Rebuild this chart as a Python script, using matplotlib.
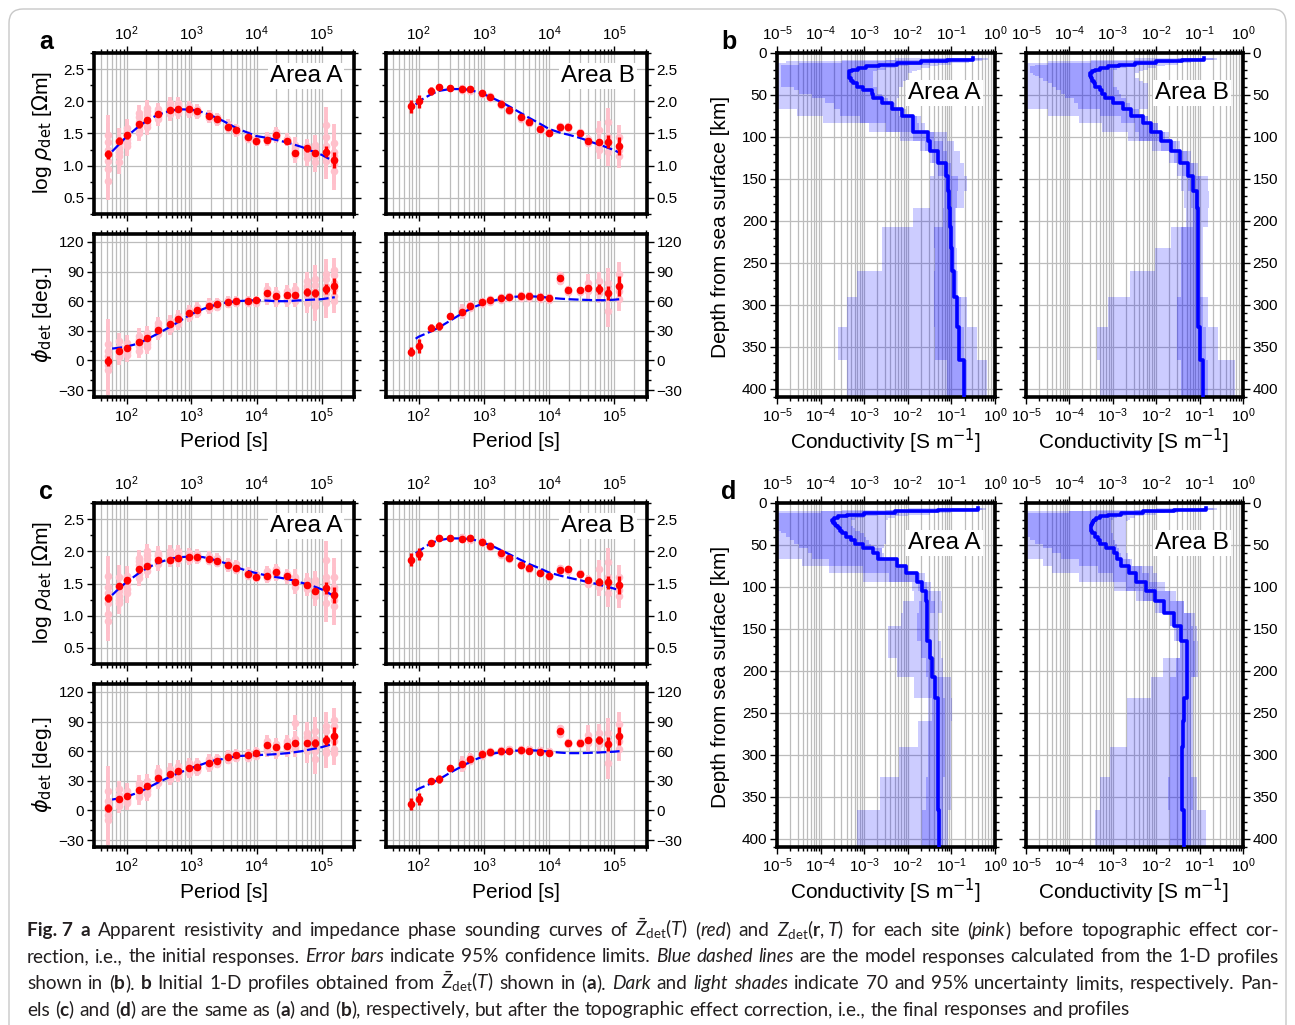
import re
import numpy as np
import matplotlib
matplotlib.use('Agg')
import matplotlib.pyplot as plt
from matplotlib import font_manager as fm
from matplotlib.ticker import LogLocator, MultipleLocator, NullFormatter, FormatStrFormatter
from matplotlib.font_manager import FontProperties
from matplotlib.patches import FancyBboxPatch
from matplotlib.transforms import IdentityTransform

W, H = 1295, 1025
DPI = 100
nan = np.nan

# ---------------------------------------------------------------- data
T_A = [51.2, 76.8, 102.4, 153.6, 204.8, 307.2, 460.8, 614.4, 921.6, 1228.8, 1843.2, 2457.6,
       3686.4, 4915.2, 7372.8, 9830.4, 14745.6, 19660.8, 29491.2, 39321.6, 58982.4, 78643.2,
       117964.8, 157286.4]
T_B = [76.8, 102.4, 153.6, 204.8, 307.2, 460.8, 614.4, 921.6, 1228.8, 1843.2, 2457.6,
       3686.4, 4915.2, 7372.8, 9830.4, 14745.6, 19660.8, 29491.2, 39321.6, 58982.4, 78643.2,
       117964.8]
TM_A = [60, 80, 100, 150, 200, 300, 500, 700, 1000, 1500, 2000, 3000, 5000, 7000, 10000,
        15000, 20000, 30000, 50000, 70000, 100000, 160000]
TM_B = [90, 100, 150, 200, 300, 500, 700, 1000, 1500, 2000, 3000, 5000, 7000, 10000, 15000,
        20000, 30000, 50000, 70000, 100000, 120000]

# ---- panel a (initial responses)
a_rhoA_red = [1.18, 1.39, 1.47, 1.64, 1.71, 1.81, 1.86, 1.88, 1.88, 1.85, 1.77, 1.72, 1.60, 1.55,
              1.45, 1.39, 1.40, 1.47, 1.39, 1.19, 1.27, 1.20, 1.22, 1.09]
a_rhoA_err = [0.07, 0.05, 0.05, 0.05, 0.04, 0.04, 0.03, 0.03, 0.03, 0.03, 0.03, 0.03, 0.03, 0.03,
              0.03, 0.03, 0.03, 0.03, 0.03, 0.04, 0.05, 0.05, 0.08, 0.13]
a_rhoA_model = [1.22, 1.35, 1.45, 1.60, 1.69, 1.79, 1.86, 1.875, 1.87, 1.83, 1.78, 1.70, 1.58, 1.52,
                1.46, 1.43, 1.40, 1.36, 1.29, 1.23, 1.17, 1.06]
a_rhoA_pink = [
    [1.48, 1.40, 1.58, 1.82, 1.90, 1.88, 1.97, 1.97, 1.92, 1.88, 1.80, 1.75, 1.65, 1.58, 1.48, 1.42, 1.45, 1.52, 1.42, 1.32, 1.30, 1.32, 1.63, 1.35],
    [1.37, 1.28, 1.48, 1.68, 1.78, 1.82, 1.90, 1.92, 1.88, 1.85, 1.78, 1.73, 1.62, 1.56, 1.46, 1.41, 1.42, 1.48, 1.40, 1.25, 1.25, 1.22, 1.45, 1.22],
    [1.07, 1.15, 1.35, 1.55, 1.65, 1.76, 1.83, 1.85, 1.85, 1.83, 1.75, 1.70, 1.60, 1.53, 1.44, 1.38, 1.38, 1.45, 1.38, 1.20, 1.18, 1.15, 1.20, 1.10],
    [0.76, 1.05, 1.30, 1.50, 1.60, 1.72, 1.80, 1.82, 1.82, 1.80, 1.74, 1.69, 1.58, 1.52, 1.42, 1.37, 1.40, 1.44, 1.38, 1.16, 1.12, 1.05, 1.08, 0.92],
    [1.25, 1.35, 1.42, 1.62, 1.70, 1.79, 1.86, 1.88, 1.87, 1.84, 1.77, 1.72, 1.61, 1.55, 1.45, 1.40, 1.42, 1.47, 1.39, 1.28, 1.22, 1.18, 1.30, 1.15],
    [0.95, 1.22, 1.52, 1.75, 1.85, 1.85, 1.93, 1.95, 1.90, 1.86, 1.79, 1.74, 1.63, 1.57, 1.47, 1.40, 1.43, 1.50, 1.41, 1.22, 1.28, 1.28, 1.15, 1.02]]
a_rhoA_pink_err = [0.30, 0.18, 0.15, 0.12, 0.12, 0.10, 0.10, 0.10, 0.08, 0.08, 0.07, 0.07, 0.07, 0.07,
                   0.06, 0.06, 0.07, 0.08, 0.08, 0.12, 0.12, 0.15, 0.28, 0.30]

a_phiA_red = [-0.8, 10, 13, 19, 23, 31, 37, 42, 48, 51, 55, 57, 59, 60, 60, 61, 68, 65, 66, 66, 69, 68, 72, 75]
a_phiA_err = [5, 3, 3, 3, 3, 2, 2, 2, 2, 2, 2, 2, 2, 2, 2, 2, 2.5, 2.5, 2.5, 2.5, 4, 4, 5, 8]
a_phiA_model = [12, 13, 14, 17, 21, 27, 35, 41, 47, 52, 55, 58, 60, 60.5, 61, 60.5, 60, 60, 61, 61.5, 62, 64]
a_phiA_pink = [
    [17, 20, 18, 25, 28, 38, 40, 45, 51, 54, 58, 59, 61, 61, 61, 61, 72, 68, 70, 72, 80, 82, 88, 92],
    [10, 14, 13, 20, 22, 33, 37, 42, 48, 51, 55, 57, 59, 60, 60, 61, 68, 64, 66, 67, 72, 70, 75, 78],
    [-5, 6, 9, 15, 17, 29, 34, 39, 46, 49, 53, 55, 58, 59, 59, 59, 65, 61, 62, 63, 65, 55, 62, 65],
    [-10, 3, 6, 10, 14, 27, 32, 37, 44, 48, 52, 54, 57, 58, 58, 58, 62, 60, 60, 60, 58, 60, 58, 60],
    [5, 12, 11, 18, 20, 31, 36, 41, 47, 50, 54, 56, 59, 60, 60, 60, 66, 63, 64, 65, 68, 65, 68, 72],
    [0, 8, 15, 22, 25, 35, 39, 43, 49, 52, 56, 58, 60, 60, 61, 60, 70, 66, 68, 70, 75, 76, 82, 86]]
a_phiA_pink_err = [25, 8, 8, 8, 7, 6, 6, 6, 5, 5, 5, 4, 4, 4, 4, 4, 6, 6, 6, 6, 10, 15, 15, 12]

a_rhoB_red = [1.92, 2.00, 2.16, 2.22, 2.20, 2.19, 2.19, 2.13, 2.07, 1.96, 1.87, 1.75, 1.68, 1.57, 1.51,
              1.60, 1.60, 1.51, 1.39, 1.37, 1.37, 1.31]
a_rhoB_err = [0.10, 0.10, 0.06, 0.05, 0.04, 0.03, 0.03, 0.03, 0.03, 0.03, 0.03, 0.03, 0.03, 0.03, 0.03,
              0.03, 0.03, 0.03, 0.04, 0.05, 0.10, 0.14]
a_rhoB_model = [1.95, 2.0, 2.1, 2.16, 2.19, 2.19, 2.16, 2.11, 2.03, 1.97, 1.87, 1.74, 1.66, 1.57, 1.51,
                1.48, 1.43, 1.35, 1.30, 1.24, 1.20]
a_rhoB_pink = [
    [nan, nan, nan, nan, nan, 2.20, 2.19, 2.13, 2.08, 1.97, 1.88, 1.76, 1.69, 1.58, 1.52, 1.62, 1.61, 1.52, 1.42, 1.55, 1.68, 1.45],
    [nan, nan, nan, nan, nan, 2.17, 2.16, 2.11, 2.05, 1.94, 1.85, 1.73, 1.66, 1.56, 1.50, 1.58, 1.58, 1.50, 1.38, 1.30, 1.45, 1.25],
    [nan, nan, nan, nan, nan, 2.18, 2.18, 2.12, 2.06, 1.95, 1.86, 1.74, 1.67, 1.57, 1.51, 1.60, 1.60, 1.51, 1.36, 1.25, 1.22, 1.15]]
a_rhoB_pink_err = [nan, nan, nan, nan, nan, 0.05, 0.05, 0.05, 0.05, 0.05, 0.05, 0.05, 0.05, 0.04, 0.04,
                   0.05, 0.04, 0.04, 0.06, 0.15, 0.22, 0.18]

a_phiB_red = [9, 15, 33, 35, 45, 49, 55, 59, 61, 63, 64, 65, 65, 64, 63, 83, 71, 71, 73, 72, 68, 75]
a_phiB_err = [5, 7, 3.5, 4, 3.5, 3, 2.5, 2, 2, 2, 2, 2, 2, 2, 2, 3, 2, 2, 3, 5, 7, 10]
a_phiB_model = [22, 24, 29, 33, 40, 49, 54, 58, 61, 63, 64.5, 65, 64.5, 63.5, 62.5, 62, 61.5, 61, 61, 61.5, 62]
a_phiB_pink = [
    [nan, nan, nan, nan, nan, 52, 56, 60, 62, 64, 65, 66, 66, 65, 64, 86, 72, 71, 78, 80, 78, 88],
    [nan, nan, nan, nan, nan, 49, 54, 58, 60, 62, 64, 64, 64, 63, 62, 81, 70, 70, 73, 72, 50, 70],
    [nan, nan, nan, nan, nan, 47, 53, 57, 59, 61, 63, 63, 63, 62, 61, 80, 69, 69, 70, 68, 72, 62]]
a_phiB_pink_err = [nan, nan, nan, nan, nan, 5, 4, 3, 3, 3, 3, 3, 3, 3, 3, 4, 3, 3, 10, 10, 16, 12]

# ---- panel c (final responses)
c_rhoA_red = [1.27, 1.46, 1.55, 1.72, 1.77, 1.86, 1.87, 1.89, 1.91, 1.91, 1.88, 1.85, 1.78, 1.74,
              1.65, 1.60, 1.62, 1.68, 1.61, 1.53, 1.47, 1.38, 1.43, 1.32]
c_rhoA_err = [0.06, 0.05, 0.05, 0.05, 0.04, 0.04, 0.03, 0.03, 0.03, 0.03, 0.03, 0.03, 0.03, 0.03,
              0.03, 0.03, 0.03, 0.03, 0.03, 0.04, 0.04, 0.05, 0.09, 0.12]
c_rhoA_model = [1.32, 1.44, 1.52, 1.65, 1.73, 1.82, 1.89, 1.91, 1.92, 1.91, 1.88, 1.83, 1.75, 1.70,
                1.66, 1.62, 1.60, 1.57, 1.51, 1.47, 1.41, 1.30]
c_rhoA_pink = [
    [1.62, 1.60, 1.62, 1.90, 2.00, 1.98, 2.00, 2.00, 1.97, 1.96, 1.93, 1.90, 1.83, 1.80, 1.70, 1.65, 1.70, 1.72, 1.65, 1.60, 1.55, 1.55, 1.86, 1.60],
    [1.45, 1.45, 1.55, 1.78, 1.88, 1.92, 1.95, 1.96, 1.93, 1.93, 1.90, 1.87, 1.80, 1.76, 1.67, 1.62, 1.65, 1.68, 1.62, 1.55, 1.50, 1.45, 1.60, 1.40],
    [1.20, 1.30, 1.42, 1.65, 1.75, 1.84, 1.88, 1.90, 1.90, 1.90, 1.87, 1.84, 1.77, 1.73, 1.64, 1.60, 1.60, 1.65, 1.60, 1.50, 1.45, 1.35, 1.35, 1.25],
    [0.91, 1.20, 1.35, 1.58, 1.70, 1.80, 1.85, 1.86, 1.87, 1.88, 1.85, 1.82, 1.75, 1.71, 1.62, 1.58, 1.58, 1.62, 1.58, 1.45, 1.42, 1.30, 1.20, 1.15],
    [1.35, 1.38, 1.50, 1.72, 1.80, 1.88, 1.91, 1.93, 1.92, 1.92, 1.89, 1.86, 1.78, 1.74, 1.66, 1.61, 1.62, 1.67, 1.61, 1.52, 1.48, 1.40, 1.45, 1.33],
    [1.02, 1.25, 1.60, 1.85, 1.95, 1.95, 1.98, 1.98, 1.95, 1.94, 1.91, 1.88, 1.81, 1.78, 1.68, 1.63, 1.67, 1.70, 1.63, 1.57, 1.52, 1.50, 1.52, 1.45]]
c_rhoA_pink_err = [0.30, 0.18, 0.15, 0.12, 0.12, 0.10, 0.10, 0.10, 0.08, 0.08, 0.07, 0.07, 0.07, 0.07,
                   0.06, 0.06, 0.07, 0.08, 0.08, 0.12, 0.12, 0.15, 0.30, 0.30]

c_phiA_red = [2.5, 12, 15, 21, 25, 33, 37, 40, 43, 44, 48, 50, 54, 56, 56, 58, 66, 64, 65, 68, 68, 68, 71, 75]
c_phiA_err = [4, 3, 3, 3, 3, 2, 2, 2, 2, 2, 2, 2, 2, 2, 2, 2, 2.5, 2.5, 2.5, 2.5, 3, 4, 5, 9]
c_phiA_model = [11, 12.5, 14, 18, 22, 28, 35, 39, 43, 47, 50, 52, 55, 55.5, 56, 56.5, 57, 58, 60, 62, 64, 68]
c_phiA_pink = [
    [20, 22, 20, 28, 30, 40, 42, 45, 48, 48, 52, 53, 57, 58, 58, 60, 70, 67, 70, 89, 78, 80, 85, 92],
    [10, 16, 15, 22, 25, 35, 38, 40, 43, 44, 48, 50, 54, 56, 56, 58, 66, 63, 65, 68, 70, 65, 72, 75],
    [-5, 8, 10, 17, 20, 30, 34, 37, 40, 41, 45, 48, 52, 54, 54, 56, 62, 60, 62, 64, 62, 52, 60, 62],
    [-10, 5, 8, 14, 17, 28, 32, 35, 38, 40, 44, 47, 51, 53, 53, 55, 60, 58, 60, 62, 60, 60, 58, 58],
    [5, 12, 12, 19, 22, 32, 36, 38, 41, 42, 46, 49, 53, 55, 55, 57, 64, 62, 63, 66, 66, 63, 66, 70],
    [0, 10, 18, 25, 28, 38, 40, 43, 46, 46, 50, 52, 56, 57, 57, 59, 68, 65, 68, 72, 74, 72, 80, 85]]
c_phiA_pink_err = [25, 8, 8, 8, 7, 6, 6, 6, 5, 5, 5, 4, 4, 4, 4, 4, 6, 6, 6, 8, 12, 15, 15, 12]

c_rhoB_red = [1.87, 1.96, 2.13, 2.21, 2.21, 2.19, 2.21, 2.14, 2.08, 1.97, 1.90, 1.79, 1.74, 1.67, 1.61,
              1.71, 1.72, 1.65, 1.55, 1.53, 1.52, 1.48]
c_rhoB_err = [0.10, 0.09, 0.05, 0.05, 0.04, 0.03, 0.03, 0.03, 0.03, 0.03, 0.03, 0.03, 0.03, 0.03, 0.03,
              0.03, 0.03, 0.03, 0.04, 0.05, 0.10, 0.14]
c_rhoB_model = [1.97, 2.0, 2.12, 2.17, 2.20, 2.20, 2.18, 2.13, 2.06, 2.00, 1.91, 1.80, 1.74, 1.67, 1.62,
                1.59, 1.55, 1.50, 1.46, 1.42, 1.39]
c_rhoB_pink = [
    [nan, nan, nan, nan, nan, 2.22, 2.21, 2.16, 2.09, 1.98, 1.91, 1.80, 1.75, 1.68, 1.62, 1.74, 1.73, 1.66, 1.57, 1.72, 1.83, 1.60],
    [nan, nan, nan, nan, nan, 2.19, 2.18, 2.13, 2.06, 1.95, 1.88, 1.78, 1.72, 1.66, 1.60, 1.70, 1.70, 1.64, 1.52, 1.50, 1.60, 1.40],
    [nan, nan, nan, nan, nan, 2.20, 2.20, 2.14, 2.07, 1.96, 1.89, 1.78, 1.73, 1.66, 1.61, 1.71, 1.72, 1.64, 1.50, 1.45, 1.35, 1.30]]
c_rhoB_pink_err = [nan, nan, nan, nan, nan, 0.05, 0.05, 0.05, 0.05, 0.05, 0.05, 0.05, 0.05, 0.04, 0.04,
                   0.05, 0.04, 0.04, 0.06, 0.15, 0.22, 0.18]

c_phiB_red = [6.5, 12, 30, 32, 43, 47, 52, 57, 59, 60, 60, 61, 60, 59, 58, 80, 68, 68, 71, 71, 67, 75]
c_phiB_err = [6, 6, 3, 4, 3, 3, 2.5, 2, 2, 2, 2, 2, 2, 2, 2, 3, 2, 2, 3, 4, 7, 9]
c_phiB_model = [20, 22, 27, 31, 38, 46, 51, 55, 58, 59, 60.5, 61, 60.5, 59.5, 58.5, 58, 58, 58.5, 59, 59.5, 60]
c_phiB_pink = [
    [nan, nan, nan, nan, nan, 50, 54, 58, 60, 61, 62, 62, 62, 61, 60, 83, 69, 69, 76, 78, 78, 88],
    [nan, nan, nan, nan, nan, 46, 52, 57, 59, 60, 61, 61, 61, 60, 59, 79, 68, 68, 72, 70, 48, 70],
    [nan, nan, nan, nan, nan, 44, 50, 55, 58, 59, 60, 60, 60, 59, 58, 77, 67, 67, 68, 67, 70, 62]]
c_phiB_pink_err = [nan, nan, nan, nan, nan, 5, 4, 3, 3, 3, 3, 3, 3, 3, 3, 4, 3, 3, 10, 10, 16, 12]

# ---- 1-D conductivity profiles (layer boundaries in km, log10 conductivity per layer)
DEPTH = [6, 8, 10, 12, 14, 16, 18, 20, 22, 24, 26, 28, 30, 33, 36, 40, 44, 49, 54, 60, 67, 75, 84,
         94, 105, 117, 131, 147, 165, 185, 207, 232, 260, 291, 326, 366, 410]

bA_main = [-0.5, -1.1, -1.7, -2.25, -2.65, -2.95, -3.15, -3.28, -3.34, -3.36, -3.36, -3.34, -3.3, -3.25,
           -3.17, -3.02, -2.83, -2.79, -2.6, -2.37, -2.14, -1.87, -1.87, -1.53, -1.5, -1.3, -1.12, -1.08,
           -1.05, -1.03, -1.01, -0.99, -0.93, -0.88, -0.82, -0.70]
bA_l95 = [-2.3, -3.5, -4.8, -5.5, -5.5, -5.5, -5.5, -5.5, -5.5, -5.5, -5.5, -5.5, -5.5, -5.5, -5.5,
          -5.5, -5.5, -5.5, -5.5, -5.5, -4.55, -3.94, -2.9, -2.18, -1.72, -1.5, -1.4, -1.5, -1.5, -1.87,
          -2.6, -2.6, -3.17, -3.4, -3.6, -3.4]
bA_u95 = [-0.15, -0.3, -0.6, -1.0, -1.3, -1.5, -1.7, -1.8, -1.9, -2.0, -2.0, -2.0, -2.0, -2.1, -2.1,
          -2.2, -2.2, -2.2, -2.25, -2.25, -2.2, -1.7, -1.6, -1.1, -0.95, -0.8, -0.72, -0.64, -0.7, -0.9,
          -0.9, -0.87, -0.84, -0.64, -0.41, -0.18]
bA_l70 = [-1.5, -2.5, -3.5, -4.5, -4.9, -4.9, -4.9, -4.9, -4.9, -4.9, -4.9, -4.9, -4.9, -4.9, -4.9,
          -4.6, -4.5, -4.2, -3.9, -3.7, -3.56, -3.1, -2.5, -1.87, -1.6, -1.45, -1.3, -1.18, -1.18, -1.2,
          -1.41, -1.37, -1.41, -1.41, -1.37, -1.1]
bA_u70 = [-0.3, -0.6, -1.0, -1.5, -2.0, -2.3, -2.5, -2.7, -2.8, -2.8, -2.8, -2.8, -2.8, -2.8, -2.8,
          -2.7, -2.7, -2.6, -2.45, -2.3, -2.05, -1.8, -1.75, -1.4, -1.2, -1.1, -1.0, -0.84, -0.88, -0.92,
          -0.92, -0.92, -0.88, -0.78, -0.7, -0.64]

bB_main = [-0.9, -1.4, -2.0, -2.5, -2.85, -3.1, -3.3, -3.42, -3.48, -3.52, -3.52, -3.5, -3.47, -3.43,
           -3.4, -3.29, -3.24, -3.18, -2.99, -2.76, -2.57, -2.30, -2.11, -1.88, -1.65, -1.45, -1.26,
           -1.15, -1.07, -1.03, -1.04, -1.04, -1.04, -1.03, -1.0, -0.92]
bB_l95 = [-2.5, -3.5, -4.5, -5.5, -5.5, -5.5, -5.5, -5.5, -5.5, -5.5, -5.5, -5.5, -5.5, -5.5, -5.5,
          -5.5, -5.5, -5.5, -5.5, -5.5, -4.5, -3.79, -3.25, -2.64, -2.1, -1.7, -1.53, -1.42, -1.35,
          -1.32, -1.65, -2.03, -2.6, -3.1, -3.37, -3.3]
bB_u95 = [-0.6, -0.9, -1.2, -1.5, -1.8, -2.0, -2.2, -2.3, -2.4, -2.5, -2.5, -2.5, -2.4, -2.3, -2.2,
          -2.2, -2.18, -2.18, -2.18, -2.2, -2.4, -2.18, -1.95, -1.7, -1.45, -1.2, -1.03, -0.8, -0.78,
          -0.8, -0.92, -0.92, -0.92, -0.8, -0.57, -0.19]
bB_l70 = [-1.5, -2.5, -3.5, -4.5, -4.8, -4.9, -4.9, -4.9, -4.9, -4.85, -4.8, -4.7, -4.6, -4.5, -4.4,
          -4.3, -4.2, -4.1, -3.9, -3.8, -3.3, -2.8, -2.5, -2.4, -1.9, -1.6, -1.4, -1.26, -1.2, -1.15,
          -1.42, -1.42, -1.42, -1.53, -1.53, -1.42]
bB_u70 = [-0.7, -1.1, -1.6, -2.0, -2.4, -2.7, -2.9, -3.0, -3.0, -3.0, -3.0, -3.0, -3.0, -3.0, -3.0,
          -2.9, -2.85, -2.8, -2.7, -2.6, -2.4, -2.2, -1.95, -1.8, -1.55, -1.3, -1.12, -0.98, -0.98,
          -0.98, -0.98, -0.99, -0.99, -0.92, -0.85, -0.8]

dA_main = [-0.4, -1.3, -2.3, -3.0, -3.4, -3.6, -3.7, -3.73, -3.72, -3.68, -3.64, -3.6, -3.55, -3.5,
           -3.42, -3.3, -3.2, -3.03, -2.8, -2.68, -2.24, -2.03, -1.8, -1.68, -1.59, -1.56, -1.56, -1.55,
           -1.5, -1.44, -1.37, -1.31, -1.30, -1.31, -1.31, -1.28]
dA_l95 = [-2.0, -3.5, -5.5, -5.5, -5.5, -5.5, -5.5, -5.5, -5.5, -5.5, -5.5, -5.5, -5.5, -5.5, -5.5,
          -5.5, -5.5, -5.5, -5.5, -5.5, -4.42, -3.81, -3.03, -1.9, -1.85, -2.1, -2.15, -2.46, -2.46,
          -2.24, -1.85, -1.54, -1.76, -2.2, -2.64, -3.16]
dA_u95 = [-0.2, -0.5, -1.0, -1.5, -2.0, -2.3, -2.45, -2.5, -2.5, -2.5, -2.5, -2.5, -2.5, -2.5, -2.5,
          -2.5, -2.5, -2.55, -2.6, -2.55, -2.2, -2.0, -1.6, -1.46, -1.25, -1.22, -1.3, -1.3, -1.25,
          -1.2, -1.02, -0.98, -1.0, -1.0, -1.02, -1.08]
dA_l70 = [-1.0, -2.5, -4.0, -5.0, -5.2, -5.2, -5.2, -5.2, -5.2, -5.2, -5.2, -5.1, -5.0, -4.9, -4.8,
          -4.7, -4.6, -4.5, -4.3, -4.2, -3.81, -3.03, -2.42, -1.77, -1.68, -1.75, -1.78, -1.78, -1.7,
          -1.58, -1.54, -1.45, -1.54, -1.54, -1.58, -1.68]
dA_u70 = [-0.3, -0.8, -1.5, -2.2, -2.7, -3.0, -3.2, -3.3, -3.3, -3.3, -3.3, -3.25, -3.2, -3.1, -3.0,
          -2.95, -2.9, -2.85, -2.6, -2.6, -2.3, -2.07, -1.72, -1.55, -1.46, -1.37, -1.5, -1.5, -1.45,
          -1.37, -1.2, -1.15, -1.15, -1.15, -1.2, -1.2]

dB_main = [-0.85, -1.6, -2.3, -2.8, -3.1, -3.3, -3.38, -3.43, -3.46, -3.48, -3.5, -3.5, -3.5, -3.47,
           -3.42, -3.35, -3.29, -3.16, -2.98, -2.9, -2.81, -2.63, -2.46, -2.24, -2.03, -1.81, -1.59,
           -1.42, -1.3, -1.28, -1.3, -1.35, -1.39, -1.41, -1.40, -1.35]
dB_l95 = [-2.0, -3.5, -5.5, -5.5, -5.5, -5.5, -5.5, -5.5, -5.5, -5.5, -5.5, -5.5, -5.5, -5.5, -5.5,
          -5.5, -5.5, -5.5, -5.5, -5.5, -4.6, -4.4, -3.77, -2.98, -2.46, -2.03, -1.68, -1.6, -1.46,
          -1.85, -2.11, -2.68, -2.68, -3.07, -3.29, -3.42]
dB_u95 = [-0.6, -1.0, -1.5, -2.0, -2.3, -2.5, -2.6, -2.65, -2.7, -2.7, -2.7, -2.7, -2.7, -2.7, -2.7,
          -2.7, -2.7, -2.7, -2.7, -2.65, -2.55, -2.07, -1.98, -1.8, -1.55, -1.37, -1.11, -1.07, -1.03,
          -1.03, -1.15, -1.15, -1.15, -1.15, -1.07, -0.85]
dB_l70 = [-1.0, -2.5, -4.0, -5.0, -5.2, -5.2, -5.2, -5.2, -5.2, -5.2, -5.2, -5.2, -5.2, -5.1, -5.0,
          -4.9, -4.8, -4.6, -4.4, -4.2, -3.77, -3.33, -3.0, -2.7, -2.3, -1.94, -1.68, -1.55, -1.46,
          -1.55, -1.68, -1.68, -1.68, -1.68, -1.72, -1.68]
dB_u70 = [-0.7, -1.2, -1.8, -2.3, -2.7, -2.9, -3.0, -3.05, -3.05, -3.05, -3.05, -3.05, -3.05, -3.05,
          -3.0, -3.0, -2.95, -2.9, -2.85, -2.8, -2.6, -2.33, -2.16, -1.98, -1.68, -1.37, -1.2, -1.15,
          -1.11, -1.11, -1.2, -1.2, -1.2, -1.2, -1.15, -1.2]

CAPTION = [
    r"**Fig.~7** **a** Apparent resistivity and impedance phase sounding curves of $\bar{Z}_{\mathrm{det}}(T)$ (*red*) and $Z_{\mathrm{det}}(\mathbf{r},T)$ for each site (*pink*) before topographic effect cor-",
    r"rection, i.e., the initial responses. *Error* *bars* indicate 95% confidence limits. *Blue* *dashed* *lines* are the model responses calculated from the 1-D profiles",
    r"shown in (**b**). **b** Initial 1-D profiles obtained from $\bar{Z}_{\mathrm{det}}(T)$ shown in (**a**). *Dark* and *light* *shades* indicate 70 and 95% uncertainty limits, respectively. Pan-",
    r"els (**c**) and (**d**) are the same as (**a**) and (**b**), respectively, but after the topographic effect correction, i.e., the final responses and profiles",
]

# ---------------------------------------------------------------- fonts
names = {f.name for f in fm.fontManager.ttflist}
def pick(c):
    for n in c:
        if n in names:
            return n
    return 'DejaVu Sans'
LAB = pick(['Liberation Sans', 'Arimo', 'DejaVu Sans'])
CAP = pick(['Liberation Sans Narrow', 'Lato', 'Roboto', 'Open Sans'])
plt.rcParams['font.family'] = [LAB, 'DejaVu Sans']
plt.rcParams['mathtext.rm'] = CAP
plt.rcParams['mathtext.it'] = CAP + ':italic'
plt.rcParams['mathtext.bf'] = CAP + ':bold'

fig = plt.figure(figsize=(W / DPI, H / DPI), dpi=DPI)
fig.patch.set_facecolor('white')

def px_axes(l, t, r, b):
    return fig.add_axes([l / W, 1 - b / H, (r - l) / W, (b - t) / H])

GRID = '#bcbcbc'
SPW = 2.6
TICK_FS = 11
LABEL_FS = 15
AREA_FS = 17.5

def common(ax):
    for s in ax.spines.values():
        s.set_linewidth(SPW)
    ax.tick_params(which='both', direction='out', top=True, bottom=True, left=True, right=True,
                   labelsize=TICK_FS, width=1.0, pad=2)
    ax.tick_params(which='major', length=5)
    ax.tick_params(which='minor', length=3)
    ax.set_axisbelow(True)

def mt_axes(l, t, r, b, kind, side):
    ax = px_axes(l, t, r, b)
    ax.set_xscale('log')
    ax.set_xlim(10 ** 1.5, 10 ** 5.5)
    ax.xaxis.set_major_locator(LogLocator(base=10, numticks=20))
    ax.xaxis.set_minor_locator(LogLocator(base=10, subs=np.arange(2, 10), numticks=20))
    ax.xaxis.set_minor_formatter(NullFormatter())
    if kind == 'rho':
        ax.set_ylim(0.25, 2.75)
        ax.yaxis.set_major_locator(MultipleLocator(0.5))
        ax.yaxis.set_minor_locator(MultipleLocator(0.25))
        ax.yaxis.set_major_formatter(FormatStrFormatter('%.1f'))
    else:
        ax.set_ylim(-37, 128)
        ax.yaxis.set_major_locator(MultipleLocator(30))
        ax.yaxis.set_minor_locator(MultipleLocator(10))
    ax.grid(True, which='both', axis='x', color=GRID, lw=0.9)
    ax.grid(True, which='major', axis='y', color=GRID, lw=0.9)
    common(ax)
    ax.tick_params(labeltop=(kind == 'rho'), labelbottom=(kind != 'rho'),
                   labelleft=(side == 'L'), labelright=(side == 'R'))
    return ax

def ebar(ax, T, v, e, color, z, cap=4.5, lw=2.5):
    T, v, e = np.asarray(T, float), np.asarray(v, float), np.asarray(e, float)
    m = np.isfinite(v)
    ax.errorbar(T[m], v[m], yerr=e[m], fmt='o', color=color, ms=5.5, mew=0, elinewidth=lw,
                capsize=cap, capthick=lw, zorder=z)

def mt_panel(ax, T, red, err, TM, model, pinks, perr, label=None):
    for p in pinks:
        ebar(ax, T, p, perr, '#ffc0cb', 2, cap=4.5, lw=2.8)
    ax.plot(TM, model, color='blue', lw=1.6, dashes=(4.5, 1.6), zorder=4)
    ebar(ax, T, red, err, 'red', 5, cap=5, lw=2.4)
    if label:
        ax.text(0.955, 0.925, label, transform=ax.transAxes, ha='right', va='top', fontsize=AREA_FS,
                bbox=dict(facecolor='white', edgecolor='none', pad=1.5), zorder=6)

def depth_axes(l, t, r, b, side):
    ax = px_axes(l, t, r, b)
    ax.set_xscale('log')
    ax.set_xlim(1e-5, 1)
    ax.set_ylim(410, 0)
    ax.xaxis.set_major_locator(LogLocator(base=10, numticks=20))
    ax.xaxis.set_minor_locator(LogLocator(base=10, subs=np.arange(2, 10), numticks=20))
    ax.xaxis.set_minor_formatter(NullFormatter())
    ax.yaxis.set_major_locator(MultipleLocator(50))
    ax.yaxis.set_minor_locator(MultipleLocator(10))
    ax.grid(True, which='both', axis='x', color=GRID, lw=0.9)
    ax.grid(True, which='major', axis='y', color=GRID, lw=0.9)
    common(ax)
    ax.tick_params(labeltop=True, labelbottom=True, labelleft=(side == 'L'), labelright=(side == 'R'))
    return ax

def profile(ax, main, l95, u95, l70, u70, label):
    d = np.asarray(DEPTH, float)
    ext = lambda a: 10 ** np.r_[a, a[-1]]
    ax.fill_betweenx(d, ext(l95), ext(u95), step='post', color='blue', alpha=0.2, lw=0, zorder=2)
    ax.fill_betweenx(d, ext(l70), ext(u70), step='post', color='blue', alpha=0.22, lw=0, zorder=2)
    ax.plot(ext(main), d, drawstyle='steps-pre', color='blue', lw=2.6, zorder=4)
    ax.text(0.935, 0.915, label, transform=ax.transAxes, ha='right', va='top', fontsize=AREA_FS,
            bbox=dict(facecolor='white', edgecolor='none', pad=1.5), zorder=6)

def ftext(x, y, s, **kw):
    return fig.text(x / W, 1 - y / H, s, **kw)

for dy, P, letters in [(0, 'a', ('a', 'b')), (450, 'c', ('c', 'd'))]:
    g = globals()
    ax = mt_axes(94, 53 + dy, 354, 214 + dy, 'rho', 'L')
    mt_panel(ax, T_A, g[P + '_rhoA_red'], g[P + '_rhoA_err'], TM_A, g[P + '_rhoA_model'],
             g[P + '_rhoA_pink'], g[P + '_rhoA_pink_err'], 'Area A')
    ax = mt_axes(94, 234 + dy, 354, 397 + dy, 'phi', 'L')
    mt_panel(ax, T_A, g[P + '_phiA_red'], g[P + '_phiA_err'], TM_A, g[P + '_phiA_model'],
             g[P + '_phiA_pink'], g[P + '_phiA_pink_err'])
    ax = mt_axes(386, 53 + dy, 647, 214 + dy, 'rho', 'R')
    mt_panel(ax, T_B, g[P + '_rhoB_red'], g[P + '_rhoB_err'], TM_B, g[P + '_rhoB_model'],
             g[P + '_rhoB_pink'], g[P + '_rhoB_pink_err'], 'Area B')
    ax = mt_axes(386, 234 + dy, 647, 397 + dy, 'phi', 'R')
    mt_panel(ax, T_B, g[P + '_phiB_red'], g[P + '_phiB_err'], TM_B, g[P + '_phiB_model'],
             g[P + '_phiB_pink'], g[P + '_phiB_pink_err'])
    Q = 'b' if P == 'a' else 'd'
    ax = depth_axes(777, 53 + dy, 995, 397 + dy, 'L')
    profile(ax, g[Q + 'A_main'], g[Q + 'A_l95'], g[Q + 'A_u95'], g[Q + 'A_l70'], g[Q + 'A_u70'], 'Area A')
    ax = depth_axes(1026, 53 + dy, 1243, 397 + dy, 'R')
    profile(ax, g[Q + 'B_main'], g[Q + 'B_l95'], g[Q + 'B_u95'], g[Q + 'B_l70'], g[Q + 'B_u70'], 'Area B')

    ftext(46, 49 + dy, letters[0], fontsize=18, fontweight='bold', ha='center', va='baseline')
    ftext(729, 49 + dy, letters[1], fontsize=18, fontweight='bold', ha='center', va='baseline')
    ftext(42, 133 + dy, r'log $\rho_{\rm det}$ [$\Omega$m]', fontsize=LABEL_FS, rotation=90, ha='center', va='center')
    ftext(42, 315 + dy, r'$\phi_{\rm det}$ [deg.]', fontsize=LABEL_FS, rotation=90, ha='center', va='center')
    ftext(224, 442 + dy, 'Period [s]', fontsize=LABEL_FS, ha='center', va='center')
    ftext(516, 442 + dy, 'Period [s]', fontsize=LABEL_FS, ha='center', va='center')
    ftext(720, 227 + dy, 'Depth from sea surface [km]', fontsize=LABEL_FS, rotation=90, ha='center', va='center')
    ftext(886, 441 + dy, r'Conductivity [S m$^{-1}$]', fontsize=LABEL_FS, ha='center', va='center')
    ftext(1134, 441 + dy, r'Conductivity [S m$^{-1}$]', fontsize=LABEL_FS, ha='center', va='center')

# ---------------------------------------------------------------- caption
renderer = fig.canvas.get_renderer()

def props(style, size):
    p = FontProperties(family=CAP, size=size)
    if style == 'b':
        p.set_weight('bold')
    elif style == 'i':
        p.set_style('italic')
    p.set_math_fontfamily('custom')
    return p

def parse(tok):
    out = []
    for piece in re.split(r'(\*\*.+?\*\*|\*.+?\*|\$.+?\$)', tok):
        if not piece:
            continue
        if piece.startswith('**'):
            out.append((piece[2:-2].replace('~', ' '), 'b'))
        elif piece.startswith('*'):
            out.append((piece[1:-1], 'i'))
        elif piece.startswith('$'):
            out.append((piece, 'm'))
        else:
            out.append((piece, 'r'))
    return out

def width(s, style, size):
    w, h, d = renderer.get_text_width_height_descent(s, props(style, size), ismath=(style == 'm'))
    return w

X0, X1 = 27, 1279
target = X1 - X0
lines = [[parse(t) for t in ln.split(' ')] for ln in CAPTION]
base = 12.0
sp0 = width('a a', 'r', base) - width('aa', 'r', base)
nat = []
for ln in lines[:3]:
    tw = sum(width(s, st, base) for tok in ln for s, st in tok)
    nat.append(tw + sp0 * (len(ln) - 1))
size = min(14.5, base * target / max(nat) * 0.985)
sp = width('a a', 'r', size) - width('aa', 'r', size)
for i, ln in enumerate(lines):
    y = 936 + i * 26.5
    widths = [[width(s, st, size) for s, st in tok] for tok in ln]
    tw = sum(sum(w) for w in widths)
    gap = (target - tw) / (len(ln) - 1) if i < 3 else sp
    x = X0
    for tok, ws in zip(ln, widths):
        for (s, st), w in zip(tok, ws):
            fig.text(x / W, 1 - y / H, s, fontproperties=props(st, size), va='baseline', ha='left',
                     color='#231f20')
            x += w
        x += gap

border = FancyBboxPatch((9, -40), 1277, (H - 9) + 40, boxstyle='round,pad=0,rounding_size=14',
                        transform=IdentityTransform(), fill=False, ec='#c8c8c8', lw=1.0)
fig.add_artist(border)

fig.savefig('out.png', dpi=DPI, facecolor='white')
